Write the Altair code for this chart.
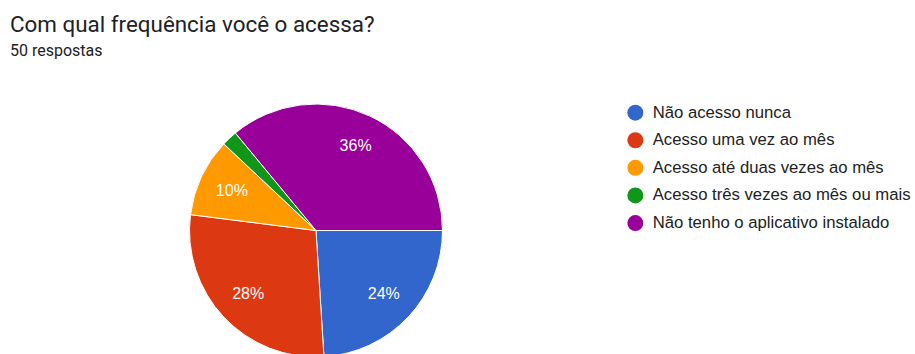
import math
import altair as alt
import pandas as pd

categories = [
    "Não acesso nunca",
    "Acesso uma vez ao mês",
    "Acesso até duas vezes ao mês",
    "Acesso três vezes ao mês ou mais",
    "Não tenho o aplicativo instalado",
]
counts = [12, 14, 5, 1, 18]
colors = ["#3366cc", "#dc3912", "#ff9900", "#109618", "#990099"]

total = sum(counts)
labels = [f"{round(100 * n / total)}%" if 100 * n / total >= 5 else "" for n in counts]

df = pd.DataFrame({"cat": categories, "n": counts, "idx": list(range(len(categories))), "pct": labels})

TOP = 63
CX, CY = 316, 230.5 - TOP

base = alt.Chart(df).encode(
    theta=alt.Theta("n:Q", stack=True, scale=alt.Scale(range=[math.pi / 2, 5 * math.pi / 2])),
    order=alt.Order("idx:Q"),
)

arcs = base.mark_arc(outerRadius=126.5, stroke="white", strokeWidth=1).encode(
    x=alt.value(CX),
    y=alt.value(CY),
    color=alt.Color(
        "cat:N",
        sort=categories,
        scale=alt.Scale(domain=categories, range=colors),
        legend=alt.Legend(
            orient="none",
            legendX=627,
            legendY=112.7 - TOP - 8.4,
            title=None,
            symbolType="circle",
            symbolSize=256,
            symbolStrokeWidth=0,
            labelFont="Liberation Sans",
            labelFontSize=16.7,
            labelColor="#222222",
            labelOffset=9,
            rowPadding=9.6,
            labelLimit=400,
        ),
    ),
)

text = base.mark_text(radius=93, fontSize=16, font="Liberation Sans").encode(
    x=alt.value(CX),
    y=alt.value(CY),
    text="pct:N",
    color=alt.value("white"),
)

chart = (
    alt.layer(arcs, text)
    .properties(
        width=915,
        height=354 - TOP,
        padding={"left": 0, "top": TOP, "right": 0, "bottom": 0},
        autosize=alt.AutoSizeParams(type="none"),
        title=alt.Title(
            "Com qual frequência você o acessa?",
            subtitle="50 respostas",
            anchor="start",
            frame="group",
            font="Roboto",
            fontSize=22.4,
            fontWeight="normal",
            color="#202124",
            subtitleFont="Roboto",
            subtitleFontSize=16,
            subtitleColor="#202124",
            subtitlePadding=7,
            dx=10,
        ),
    )
    .configure_view(stroke=None)
)

chart.save("out.html", embed_options={"renderer": "svg", "actions": False})
